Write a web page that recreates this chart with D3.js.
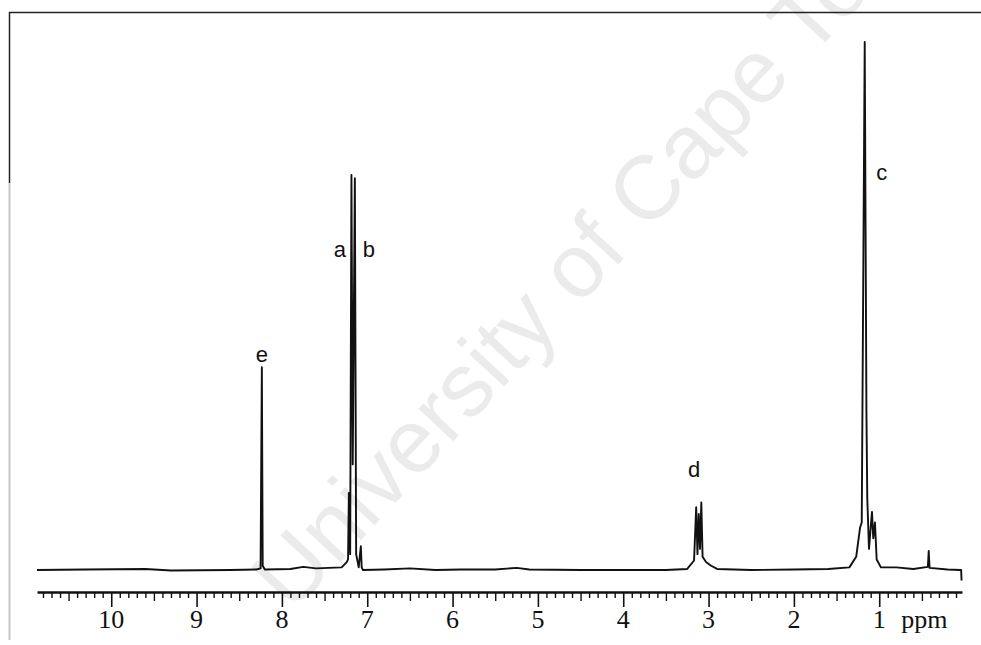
<!DOCTYPE html>
<html>
<head>
<meta charset="utf-8">
<script src="https://cdn.jsdelivr.net/npm/d3@7"></script>
<style>
    body { margin: 0; background: #fff; }
    .trace { fill: none; stroke: #111; stroke-width: 1.9; stroke-linejoin: round; }
    .axis path, .axis line { stroke: #111; }
    .axis path { stroke-width: 2.6; }
    .tickLabel { font-family: "Liberation Serif", serif; font-size: 26px; fill: #111; }
    .peakLabel { font-family: "Liberation Sans", sans-serif; font-size: 22px; fill: #111; }
    .watermark { font-family: "Liberation Sans", sans-serif; font-size: 90px; fill: #ebebeb; }
</style>
</head>
<body>
<svg class="chart"></svg>
<script>
// spectrum trace: chemical shift (ppm) and intensity (c peak = 100)
var tracePpm = [10.87, 10.3, 9.6, 9.3, 8.6, 8.3, 8.25, 8.235, 8.225, 8.2, 7.9, 7.75, 7.6, 7.3,
    7.24, 7.225, 7.215, 7.2, 7.185, 7.17, 7.145, 7.13, 7.1, 7.075, 7.065, 7.05, 6.8, 6.5, 6.2,
    5.9, 5.5, 5.25, 5.1, 4.5, 3.5, 3.25, 3.17, 3.145, 3.13, 3.115, 3.1, 3.085, 3.07, 3.03,
    2.97, 2.9, 2.5, 2.0, 1.6, 1.35, 1.27, 1.225, 1.205, 1.17, 1.15, 1.14, 1.12, 1.085, 1.07,
    1.05, 1.03, 0.98, 0.8, 0.6, 0.43, 0.42, 0.41, 0.2, 0.05, 0.04, 0.035];
var traceInt = [0, 0.1, 0.2, -0.1, 0, 0.1, 0.3, 38.4, 0.8, 0.1, 0.2, 0.6, 0.3, 0.5,
    1.5, 2, 14.6, 3, 74.8, 20, 74.2, 3, 0.5, 4.5, 0.5, 0, 0.1, 0.3, 0,
    0.1, 0.1, 0.4, 0.1, 0, 0, 0.2, 1.8, 11.9, 3, 10.6, 4, 12.8, 2.5, 1.5,
    0.8, 0.2, 0, 0.1, 0.2, 0.5, 2.5, 8, 9, 100, 30, 13.6, 4, 11, 6,
    9, 2, 0.5, 0.5, 0.2, 0.6, 3.6, 0.4, 0.1, 0, 0, -2];

// axis labels
var majorTicks = [10, 9, 8, 7, 6, 5, 4, 3, 2, 1];
var tickLabels = ["10", "9", "8", "7", "6", "5", "4", "3", "2", "1"];
var unitLabel = "ppm";

// peak assignments
var peakNames = ["e", "a", "b", "d", "c"];
var peakPos = [8.235, 7.32, 6.98, 3.17, 0.97];
var peakLabelInt = [39.4, 59.2, 59.2, 17.6, 73.8];

var watermarkText = "University of Cape Town";

function show() {

    'use strict';
    var width = 981, height = 645;

    var svg = d3.select(".chart")
        .attr("width", width)
        .attr("height", height);

    // scales: ppm runs right to left like on the spectrometer plot
    var x = d3.scaleLinear().domain([10.87, 0.03]).range([37, 962]);
    var y = d3.scaleLinear().domain([0, 100]).range([570, 42]);

    // faint watermark behind everything
    svg.append("text")
        .attr("class", "watermark")
        .attr("transform", "translate(292,614) rotate(-47)")
        .text(watermarkText);

    // scanned page frame
    svg.append("line").attr("x1", 9).attr("x2", 981).attr("y1", 12.5).attr("y2", 12.5)
        .attr("stroke", "#222").attr("stroke-width", 1.5);
    svg.append("line").attr("x1", 9.5).attr("x2", 9.5).attr("y1", 12).attr("y2", 183)
        .attr("stroke", "#222").attr("stroke-width", 1.5);
    svg.append("line").attr("x1", 9.5).attr("x2", 9.5).attr("y1", 183).attr("y2", 640)
        .attr("stroke", "#c8c8c8").attr("stroke-width", 2);

    // the trace
    var points = tracePpm.map(function(p, i) { return [p, traceInt[i]]; });
    var line = d3.line()
        .x(function(d) { return x(d[0]); })
        .y(function(d) { return y(d[1]); });
    svg.append("path")
        .datum(points)
        .attr("class", "trace")
        .attr("d", line);

    // ppm scale: minor ticks every 0.1, longer ones on integers
    var axisY = 592;
    var minor = d3.range(0, 109).map(function(i) { return Math.round(i) / 10; })
        .filter(function(v) { return v >= 0.1 && v <= 10.8; });
    var axisG = svg.append("g")
        .attr("class", "axis")
        .attr("transform", "translate(0," + axisY + ")");
    axisG.call(d3.axisBottom(x).tickValues(minor).tickSize(6).tickSizeOuter(0).tickFormat(""));
    axisG.selectAll(".tick line").attr("stroke-width", 1.4);
    axisG.selectAll(".tick")
        .filter(function(d) { return Math.abs(d * 2 - Math.round(d * 2)) < 1e-6; })
        .select("line").attr("y2", 9);
    axisG.selectAll(".tick")
        .filter(function(d) { return majorTicks.indexOf(Math.round(d * 10) / 10) >= 0; })
        .select("line").attr("y2", 15).attr("stroke-width", 1.6);

    svg.selectAll(".tickLabel")
        .data(majorTicks)
        .enter()
        .append("text")
        .attr("class", "tickLabel")
        .attr("x", function(d) { return x(d); })
        .attr("y", 628)
        .attr("text-anchor", "middle")
        .text(function(d, i) { return tickLabels[i]; });

    svg.append("text")
        .attr("class", "tickLabel")
        .attr("x", x(1) + 22)
        .attr("y", 628)
        .text(unitLabel);

    // letters on the peaks
    svg.selectAll(".peakLabel")
        .data(peakNames)
        .enter()
        .append("text")
        .attr("class", "peakLabel")
        .attr("x", function(d, i) { return x(peakPos[i]); })
        .attr("y", function(d, i) { return y(peakLabelInt[i]); })
        .attr("text-anchor", "middle")
        .text(function(d) { return d; });
}
show();
</script>
</body>
</html>
